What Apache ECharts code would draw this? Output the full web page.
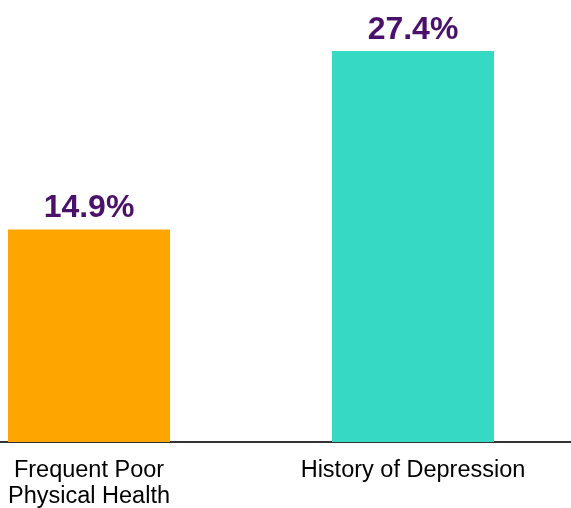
<!DOCTYPE html>
<html>
<head>
<meta charset="utf-8">
<script src="https://cdn.jsdelivr.net/npm/echarts@6/dist/echarts.min.js"></script>
<style>
html,body{margin:0;padding:0;background:#fff;}
#chart{width:571px;height:508px;}
</style>
</head>
<body>
<div id="chart"></div>
<script>
const categories = ["Frequent Poor\nPhysical Health", "History of Depression"];
const values = [14.9, 27.4];
const barColors = ["#FFA500", "#36D9C4"];

const chart = echarts.init(document.getElementById('chart'), null, {renderer: 'canvas'});
chart.setOption({
  animation: false,
  grid: {left: -73, width: 648, top: 14, bottom: 66, containLabel: false, outerBoundsMode: 'none'},
  xAxis: {
    type: 'category',
    data: categories,
    axisLine: {show: true, lineStyle: {color: '#333', width: 2}},
    axisTick: {show: false},
    axisLabel: {
      interval: 0,
      margin: 16,
      fontFamily: 'Liberation Sans, Arial, sans-serif',
      fontSize: 23.5,
      lineHeight: 26,
      color: '#000'
    }
  },
  yAxis: {
    type: 'value',
    min: 0,
    max: 30,
    show: false,
    splitLine: {show: false}
  },
  series: [{
    type: 'bar',
    barWidth: '50%',
    data: values.map((v, i) => ({value: v, itemStyle: {color: barColors[i]}})),
    label: {
      show: true,
      position: 'top',
      distance: 5,
      formatter: p => p.value.toFixed(1) + '%',
      fontFamily: 'Liberation Sans, Arial, sans-serif',
      fontWeight: 'bold',
      fontSize: 32,
      color: '#4B116A'
    }
  }]
});
</script>
</body>
</html>
